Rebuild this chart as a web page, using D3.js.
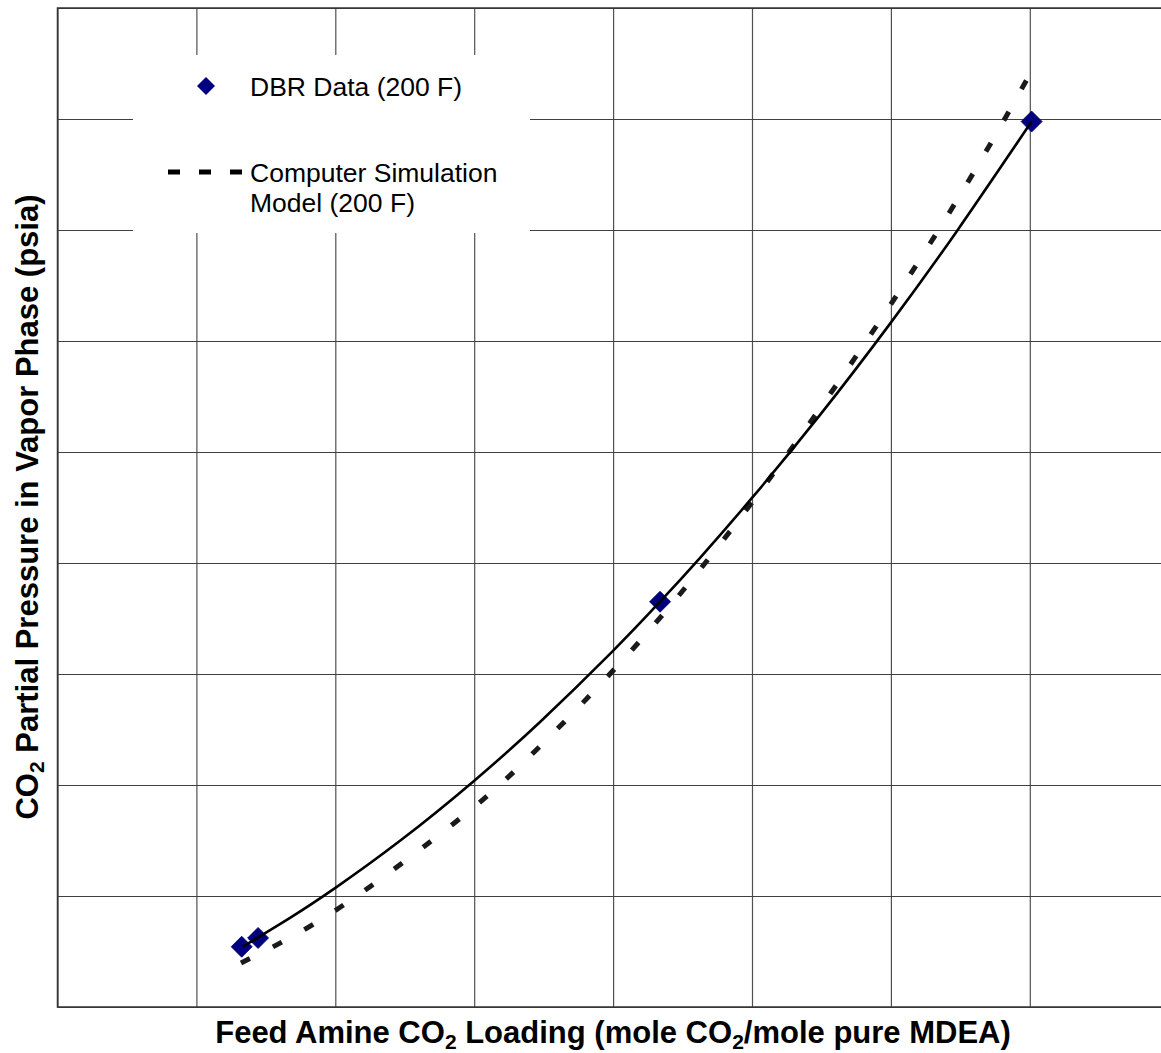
<!DOCTYPE html>
<html>
<head>
<meta charset="utf-8">
<script src="https://cdn.jsdelivr.net/npm/d3@7"></script>
<style>
  html, body { margin: 0; padding: 0; background: #fff; }
  svg { display: block; font-family: "Liberation Sans", Arial, sans-serif; }
</style>
</head>
<body>
<svg id="chart" width="1161" height="1053"></svg>
<script>
// ---- data ----
const xGridValues = [0, 0.1, 0.2, 0.3, 0.4, 0.5, 0.6, 0.7, 0.8];
const yGridValues = [0, 10, 20, 30, 40, 50, 60, 70, 80, 90];

// DBR measured points (loading, psia)
const dbrLoading  = [0.1326, 0.1444, 0.4338, 0.7013];
const dbrPressure = [5.43, 6.22, 36.51, 79.77];

// trend line through DBR data
const trendLoading  = [0.1333, 0.1674, 0.1998, 0.2466, 0.2992, 0.3474, 0.3985, 0.4338, 0.4626, 0.5000, 0.5490, 0.6001, 0.6476, 0.7013];
const trendPressure = [5.43, 8.03, 10.71, 14.97, 20.30, 25.68, 31.90, 36.51, 40.47, 45.86, 53.34, 61.68, 69.92, 79.77];

// computer simulation model
const simLoading  = [0.1321, 0.2027, 0.2848, 0.3373, 0.4180, 0.5029, 0.5843, 0.6520, 0.7009];
const simPressure = [3.96, 8.92, 16.49, 22.25, 32.79, 45.95, 60.36, 73.60, 84.23];

const legendLabels = ["DBR Data (200 F)", ["Computer Simulation", "Model (200 F)"]];

// ---- layout ----
const svg = d3.select("#chart");
const pLeft = 57.5, pTop = 8, pBottom = 1007, pRight = 57.5 + 8 * 138.9;

const x = d3.scaleLinear().domain([0, 0.8]).range([pLeft, pRight]);
const y = d3.scaleLinear().domain([0, 90]).range([pBottom, pTop]);

// gridlines via axes
svg.append("g")
  .attr("transform", `translate(0,${pBottom})`)
  .call(d3.axisBottom(x).tickValues(xGridValues).tickSize(-(pBottom - pTop)).tickFormat(""))
  .call(g => g.select(".domain").remove())
  .call(g => g.selectAll("line").attr("stroke", "#505050").attr("stroke-width", 1.2));

svg.append("g")
  .attr("transform", `translate(${pLeft},0)`)
  .call(d3.axisLeft(y).tickValues(yGridValues).tickSize(-(pRight - pLeft)).tickFormat(""))
  .call(g => g.select(".domain").remove())
  .call(g => g.selectAll("line").attr("stroke", "#404040").attr("stroke-width", 1.2));

// plot border (left, top, bottom)
svg.append("path")
  .attr("d", `M${pRight},${pTop}H${pLeft}V${pBottom}H${pRight}`)
  .attr("fill", "none").attr("stroke", "#333").attr("stroke-width", 1.5);

// legend background
svg.append("rect")
  .attr("x", 133).attr("y", 55).attr("width", 397).attr("height", 178)
  .attr("fill", "#fff");

const diamond = r => `M0,${-r}L${r},0L0,${r}L${-r},0Z`;

// data diamonds
const dbr = dbrLoading.map((v, i) => [v, dbrPressure[i]]);
svg.append("g").selectAll("path").data(dbr).join("path")
  .attr("transform", d => `translate(${x(d[0])},${y(d[1])})`)
  .attr("d", diamond(10.5))
  .attr("fill", "#000080").attr("stroke", "#00005a").attr("stroke-width", 0.8)
  .attr("stroke-linejoin", "round");

// simulation dashed line
const smooth = d3.line().x(d => x(d[0])).y(d => y(d[1])).curve(d3.curveNatural);
const sim = simLoading.map((v, i) => [v, simPressure[i]]);
svg.append("path").datum(sim)
  .attr("d", smooth)
  .attr("fill", "none").attr("stroke", "#1a1a1a").attr("stroke-width", 5)
  .attr("stroke-dasharray", "10,26");

// trend solid line
const trend = trendLoading.map((v, i) => [v, trendPressure[i]]);
svg.append("path").datum(trend)
  .attr("d", smooth)
  .attr("fill", "none").attr("stroke", "#000").attr("stroke-width", 2.6);

// legend entries
svg.append("path").attr("transform", "translate(206,86)").attr("d", diamond(9))
  .attr("fill", "#000080");
svg.append("text").attr("x", 250).attr("y", 95.5)
  .attr("font-size", 26.5).attr("fill", "#000").text(legendLabels[0]);
svg.append("line").attr("x1", 168).attr("x2", 242).attr("y1", 172).attr("y2", 172)
  .attr("stroke", "#000").attr("stroke-width", 5).attr("stroke-dasharray", "12,19");
const lt = svg.append("text").attr("x", 250).attr("y", 181.5)
  .attr("font-size", 26.5).attr("fill", "#000");
lt.append("tspan").attr("x", 250).attr("dy", 0).text(legendLabels[1][0]);
lt.append("tspan").attr("x", 250).attr("dy", 30).text(legendLabels[1][1]);

// axis titles
const xt = svg.append("text").attr("x", 613).attr("y", 1043)
  .attr("text-anchor", "middle").attr("font-weight", "bold").attr("font-size", 31);
xt.append("tspan").text("Feed Amine CO");
xt.append("tspan").attr("font-size", 21).attr("dy", 6).text("2");
xt.append("tspan").attr("dy", -6).text(" Loading (mole CO");
xt.append("tspan").attr("font-size", 21).attr("dy", 6).text("2");
xt.append("tspan").attr("dy", -6).text("/mole pure MDEA)");

const yt = svg.append("text").attr("transform", "translate(38,507) rotate(-90)")
  .attr("text-anchor", "middle").attr("font-weight", "bold").attr("font-size", 31);
yt.append("tspan").text("CO");
yt.append("tspan").attr("font-size", 21).attr("dy", 6).text("2");
yt.append("tspan").attr("dy", -6).text(" Partial Pressure in Vapor Phase (psia)");
</script>
</body>
</html>
